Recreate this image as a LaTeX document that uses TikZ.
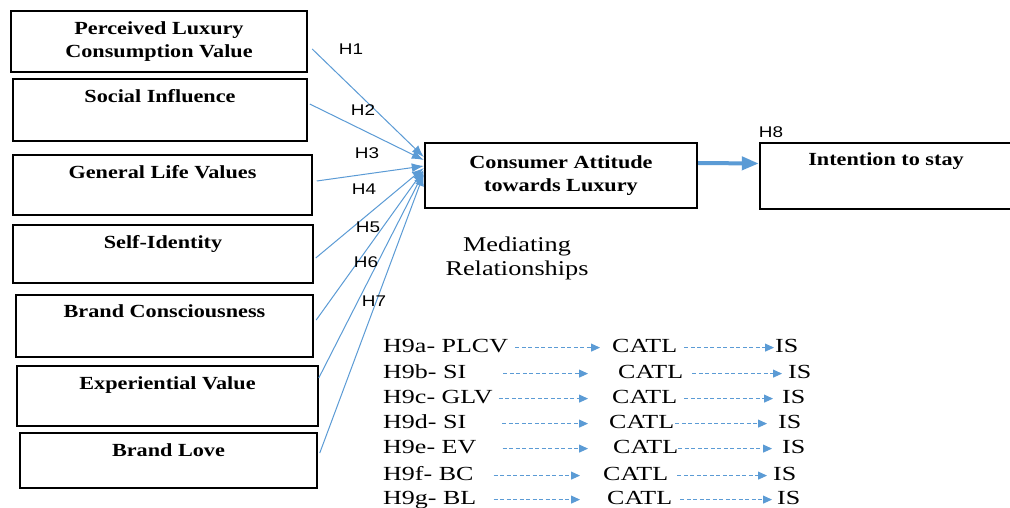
\documentclass[tikz,border=0pt]{standalone}
\usepackage{fontspec}
\setmainfont{Liberation Serif}
\newfontfamily\boxfont{Liberation Serif}[FakeStretch=1.2]
\newfontfamily\listfont{Liberation Serif}[FakeStretch=1.3]
\newfontfamily\medfont{Liberation Serif}[FakeStretch=1.25]
\newfontfamily\hfont{Liberation Sans}[FakeStretch=1.22]
\usetikzlibrary{arrows.meta}
\definecolor{lblue}{RGB}{91,155,213}
\tikzset{
  box/.style={draw=black, line width=1.5pt, inner sep=0pt, align=center,
    font=\boxfont\bfseries\fontsize{18.5}{22.5}\selectfont},
  thickbox/.style={box, line width=2.4pt},
  btext/.style={font=\boxfont\bfseries\fontsize{18.5}{22.5}\selectfont,
    inner sep=0pt, anchor=base, yshift=-24pt},
  hyp/.style={draw=lblue, line width=1pt, -{Latex[length=12pt,width=9pt]}},
  hlab/.style={font=\hfont\fontsize{15.5}{17}\selectfont, inner sep=0pt},
  med/.style={font=\medfont\fontsize{21}{24}\selectfont, inner sep=0pt, align=center},
  rowtext/.style={font=\listfont\fontsize{20}{24}\selectfont, inner sep=0pt,
    text height=14pt, text depth=4pt, anchor=west},
  dasharr/.style={draw=lblue, line width=0.9pt, dash pattern=on 4pt off 2.5pt,
    -{Triangle[length=9pt,width=8pt]}},
}
\begin{document}
\begin{tikzpicture}[x=1pt, y=-1pt]
\useasboundingbox (0,0) rectangle (1010,508);
\clip (0,0) rectangle (1010,508);
\fill[white] (0,0) rectangle (1010,508);

% left boxes
\node[thickbox, minimum width=296pt, minimum height=61pt] (plcv) at (159,41.5)
  {Perceived Luxury\\Consumption Value};
\node[box, minimum width=294pt, minimum height=62pt,
  label={[btext]north:Social Influence}] (si) at (160,110) {};
\node[box, minimum width=299pt, minimum height=60pt,
  label={[btext]north:General Life Values}] (glv) at (162.5,185) {};
\node[box, minimum width=300pt, minimum height=58pt,
  label={[btext]north:Self-Identity}] (sid) at (163,254) {};
\node[thickbox, minimum width=297pt, minimum height=62pt,
  label={[btext]north:Brand Consciousness}] (bc) at (164.5,326) {};
\node[box, minimum width=301pt, minimum height=60pt,
  label={[btext]north:Experiential Value}] (ev) at (167.5,396) {};
\node[box, minimum width=297pt, minimum height=55pt,
  label={[btext]north:Brand Love}] (bl) at (168.5,460.5) {};

% central and right boxes
\node[thickbox, minimum width=272pt, minimum height=65pt] (catl) at (561,175.5)
  {Consumer Attitude\\towards Luxury};
\node[thickbox, minimum width=252pt, minimum height=66pt,
  label={[btext]north:Intention to stay}] (ist) at (886,176) {};

% hypotheses arrows
\draw[hyp] ([xshift=4pt,yshift=-7.5pt]plcv.east) -- ([yshift=18.5pt]catl.west);
\draw[hyp] ([xshift=2pt,yshift=6pt]si.east) -- ([yshift=15.5pt]catl.west);
\draw[hyp] ([xshift=4pt,yshift=4pt]glv.east) -- ([yshift=9.5pt]catl.west);
\draw[hyp] ([xshift=2pt,yshift=-4pt]sid.east) -- ([yshift=7.5pt]catl.west);
\draw[hyp] ([xshift=2pt,yshift=6pt]bc.east) -- ([yshift=5.5pt]catl.west);
\draw[hyp] ([xshift=0pt,yshift=18pt]ev.east) -- ([yshift=3.5pt]catl.west);
\draw[hyp] ([xshift=2pt,yshift=7.5pt]bl.east) -- ([yshift=1.5pt]catl.west);

\draw[lblue, line width=4pt, -{Triangle[length=17pt,width=13pt]}]
  ([yshift=12.5pt]catl.east) -- ([yshift=12.5pt]ist.west);

% hypothesis labels
\node[hlab] (h1) at (351,49) {H1};
\node[hlab] (h2) at (363,110) {H2};
\node[hlab] (h3) at (367,153) {H3};
\node[hlab] (h4) at (364,189) {H4};
\node[hlab] (h5) at (368,227) {H5};
\node[hlab] (h6) at (366,262) {H6};
\node[hlab] (h7) at (374,301) {H7};
\node[hlab] (h8) at (771,132) {H8};

% mediating
\node[med] (medi) at (517,258) {Mediating\\Relationships};

% mediating rows
\node[rowtext] (la) at (383,347.6) {H9a- PLCV};
\node[rowtext] (ca) at (612,347.6) {CATL};
\node[rowtext] (ia) at (775,347.6) {IS};
\draw[dasharr, shorten <=7pt, shorten >=12pt] (la.east) -- (ca.west);
\draw[dasharr, shorten <=7pt, shorten >=1pt] (ca.east) -- (ia.west);

\node[rowtext] (lb) at (383,373.6) {H9b- SI};
\node[rowtext] (cb) at (618,373.6) {CATL};
\node[rowtext] (ib) at (788,373.6) {IS};
\draw[dasharr, shorten <=37pt, shorten >=30pt] (lb.east) -- (cb.west);
\draw[dasharr, shorten <=9pt, shorten >=6pt] (cb.east) -- (ib.west);

\node[rowtext] (lc) at (383,398.6) {H9c- GLV};
\node[rowtext] (cc) at (612,398.6) {CATL};
\node[rowtext] (ic) at (782,398.6) {IS};
\draw[dasharr, shorten <=6pt, shorten >=24pt] (lc.east) -- (cc.west);
\draw[dasharr, shorten <=7pt, shorten >=9pt] (cc.east) -- (ic.west);

\node[rowtext] (ld) at (383,423.6) {H9d- SI};
\node[rowtext] (cd) at (609,423.6) {CATL};
\node[rowtext] (id) at (778,423.6) {IS};
\draw[dasharr, shorten <=36pt, shorten >=21pt] (ld.east) -- (cd.west);
\draw[dasharr, shorten <=1pt, shorten >=11pt] (cd.east) -- (id.west);

\node[rowtext] (le) at (383,448.6) {H9e- EV};
\node[rowtext] (ce) at (613,448.6) {CATL};
\node[rowtext] (ie) at (782,448.6) {IS};
\draw[dasharr, shorten <=26pt, shorten >=25pt] (le.east) -- (ce.west);
\draw[dasharr, shorten <=0pt, shorten >=10pt] (ce.east) -- (ie.west);

\node[rowtext] (lf) at (383,475.6) {H9f- BC};
\node[rowtext] (cf) at (603,475.6) {CATL};
\node[rowtext] (if) at (773,475.6) {IS};
\draw[dasharr, shorten <=20pt, shorten >=23pt] (lf.east) -- (cf.west);
\draw[dasharr, shorten <=9pt, shorten >=6pt] (cf.east) -- (if.west);

\node[rowtext] (lg) at (383,499.6) {H9g- BL};
\node[rowtext] (cg) at (607,499.6) {CATL};
\node[rowtext] (ig) at (777,499.6) {IS};
\draw[dasharr, shorten <=17pt, shorten >=27pt] (lg.east) -- (cg.west);
\draw[dasharr, shorten <=8pt, shorten >=5pt] (cg.east) -- (ig.west);
\end{tikzpicture}
\end{document}
